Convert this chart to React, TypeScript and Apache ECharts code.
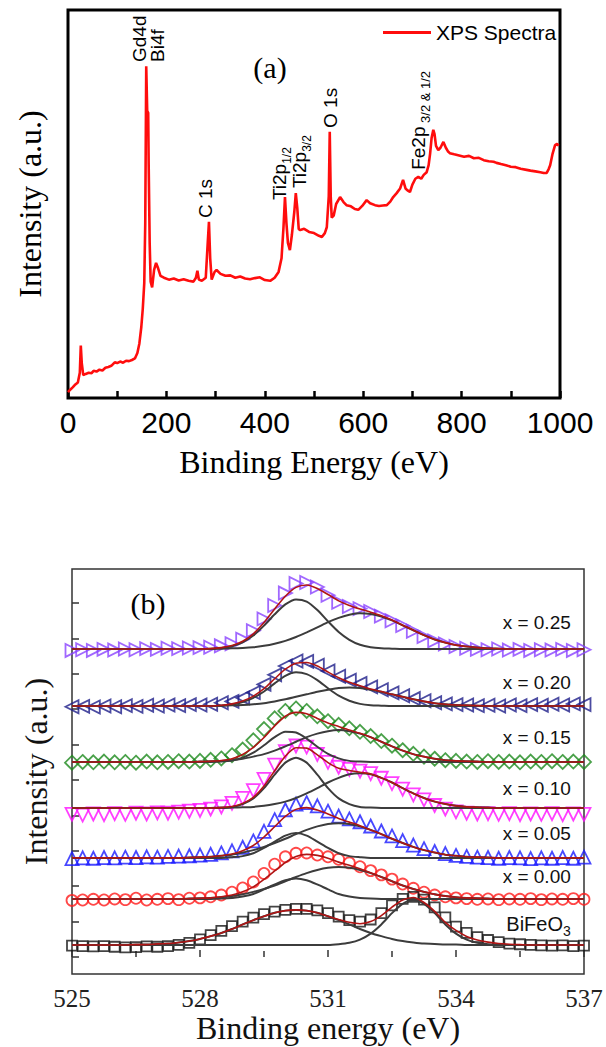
import React, { useEffect, useRef } from 'react';
import * as echarts from 'echarts';

const serif = 'Liberation Serif';
const sans = 'Liberation Sans';

// ---------- (a) XPS survey spectrum: [binding energy (eV), intensity (a.u.)]
const surveySpectrum: number[][] = [
  [0, 1.5], [5, 2.2], [10, 2.8], [15, 3.5], [20, 4.0], [24, 6.5], [26, 13.5], [28, 9], [31, 5.9], [36, 6.2],
  [42, 6.5], [48, 6.4], [52, 7.0], [58, 6.8], [64, 7.3], [70, 7.1], [76, 7.8], [82, 8.0], [88, 8.3], [95, 9.2],
  [100, 9.0], [106, 9.4], [112, 9.1], [118, 9.6], [124, 9.5], [130, 9.8], [136, 10.2], [141, 11.6], [145, 14],
  [149, 18.3], [152, 23], [155, 29.6], [157, 45], [159, 85.5], [160, 85.5], [161, 74], [163, 73.5], [164, 60],
  [166, 40], [168, 30], [171, 28.5], [175, 33], [179, 34.8], [183, 33.5], [188, 31.5], [195, 31.0], [205, 30.5],
  [215, 30.8], [225, 30.3], [235, 30.6], [245, 30.2], [255, 30.0], [260, 31], [263, 32.8], [266, 30.5],
  [272, 30.2], [280, 31], [284, 40], [286.5, 45.4], [289, 36], [292, 30.5], [298, 32.5], [302, 33], [310, 32],
  [320, 31.5], [330, 31.6], [340, 31.0], [350, 31.3], [360, 30.8], [370, 30.6], [380, 30.9], [390, 31.1],
  [400, 30.4], [411, 30.2], [420, 31.0], [428, 32.5], [434, 36], [438, 44], [441, 51.8], [444, 45], [447, 40],
  [451, 38.1], [455, 42], [460, 48], [463, 52.8], [466, 49], [469, 43.5], [472, 43.3], [480, 43.6], [490, 42.8],
  [500, 42.5], [510, 41.8], [516, 41.5], [522, 42.5], [526, 44], [530, 52], [532, 68.6], [534, 52], [536, 46.5],
  [540, 47], [545, 50], [553, 51.8], [560, 50.5], [566, 49.7], [575, 49.4], [583, 48.7], [590, 48.5],
  [598, 49.5], [607, 51], [614, 50.2], [624, 49.7], [632, 49.5], [640, 49.6], [648, 49.7], [655, 50.6],
  [661, 51.8], [668, 52.8], [675, 54], [681, 56.2], [686, 54], [690, 53.5], [695, 53.1], [700, 55], [706, 56.5],
  [712, 57], [718, 56.5], [723, 57.5], [729, 58.2], [733, 60], [736, 63], [739, 67], [742.5, 69.1], [745, 68],
  [748, 65], [752.6, 63.9], [757, 64.5], [763, 66], [768, 64.5], [772, 63.6], [776, 63.1], [785, 62.8],
  [795, 62.5], [805, 62.2], [815, 62.4], [825, 61.8], [835, 61.9], [845, 61.3], [855, 61.0], [865, 60.9],
  [871, 60.6], [880, 60.3], [890, 60.0], [900, 59.6], [910, 59.5], [920, 59.1], [932, 58.8], [940, 58.6],
  [950, 58.4], [960, 58.2], [967, 58.0], [973, 58.0], [977, 59], [980, 60], [985, 63], [990, 65.2],
  [994, 65.5], [997, 65],
];

// peak annotations (energy, intensity where the rotated text starts)
const surveyPeakLabels = [
  { main: 'Gd4d\nBi4f', sub: '', energy: 128, level: 86.6 },
  { main: 'C 1s', sub: '', energy: 262, level: 46.4 },
  { main: 'Ti2p', sub: '1/2', energy: 410.6, level: 51.0 },
  { main: 'Ti2p', sub: '3/2', energy: 451.2, level: 54.1 },
  { main: 'O 1s', sub: '', energy: 515.2, level: 69.6 },
  { main: 'Fe2p', sub: ' 3/2 & 1/2', energy: 692.1, level: 58.8 },
];

// ---------- (b) O 1s spectra
const bindingGrid = [
  525, 525.25, 525.5, 525.75, 526, 526.25, 526.5, 526.75, 527, 527.25, 527.5, 527.75,
  528, 528.25, 528.5, 528.75, 529, 529.25, 529.5, 529.75, 530, 530.25, 530.5, 530.75,
  531, 531.25, 531.5, 531.75, 532, 532.25, 532.5, 532.75, 533, 533.25, 533.5, 533.75,
  534, 534.25, 534.5, 534.75, 535, 535.25, 535.5, 535.75, 536, 536.25, 536.5, 536.75, 537,
];
const oxygenTicks = [0, 1, 2, 3, 4, 5, 6, 7, 8, 9, 10];

// x = 0.25
const data025 = [
  8.66, 8.68, 8.66, 8.69, 8.67, 8.70, 8.68, 8.71, 8.69, 8.72, 8.71, 8.73,
  8.74, 8.75, 8.79, 8.85, 8.98, 9.22, 9.55, 9.93, 10.28, 10.55, 10.58, 10.45,
  10.22, 10.02, 9.90, 9.84, 9.76, 9.63, 9.50, 9.36, 9.20, 9.05, 8.93, 8.84,
  8.77, 8.72, 8.69, 8.68, 8.70, 8.67, 8.69, 8.66, 8.68, 8.67, 8.69, 8.66, 8.68,
];
const fit025 = [
  8.70, 8.70, 8.70, 8.70, 8.70, 8.70, 8.70, 8.70, 8.70, 8.70, 8.70, 8.70,
  8.70, 8.71, 8.74, 8.80, 8.92, 9.13, 9.45, 9.83, 10.19, 10.44, 10.51, 10.41,
  10.24, 10.06, 9.93, 9.83, 9.74, 9.64, 9.52, 9.37, 9.23, 9.09, 8.97, 8.88,
  8.81, 8.77, 8.74, 8.72, 8.71, 8.70, 8.70, 8.70, 8.70, 8.70, 8.70, 8.70, 8.70,
];
const low025 = [
  8.70, 8.70, 8.70, 8.70, 8.70, 8.70, 8.70, 8.70, 8.70, 8.70, 8.70, 8.70,
  8.70, 8.71, 8.73, 8.78, 8.89, 9.08, 9.36, 9.68, 9.96, 10.10, 10.04, 9.80,
  9.48, 9.18, 8.96, 8.82, 8.75, 8.72, 8.71, 8.70, 8.70, 8.70, 8.70, 8.70,
  8.70, 8.70, 8.70, 8.70, 8.70, 8.70, 8.70, 8.70, 8.70, 8.70, 8.70, 8.70, 8.70,
];
const high025 = [
  8.70, 8.70, 8.70, 8.70, 8.70, 8.70, 8.70, 8.70, 8.70, 8.70, 8.70, 8.70,
  8.70, 8.70, 8.71, 8.72, 8.73, 8.75, 8.79, 8.85, 8.93, 9.04, 9.17, 9.31,
  9.46, 9.58, 9.67, 9.71, 9.69, 9.62, 9.51, 9.37, 9.23, 9.09, 8.97, 8.88,
  8.81, 8.77, 8.74, 8.72, 8.71, 8.70, 8.70, 8.70, 8.70, 8.70, 8.70, 8.70, 8.70,
];

// x = 0.20
const data020 = [
  7.07, 7.08, 7.06, 7.09, 7.07, 7.10, 7.08, 7.11, 7.09, 7.12, 7.10, 7.13,
  7.12, 7.14, 7.18, 7.22, 7.32, 7.47, 7.70, 7.97, 8.22, 8.36, 8.35, 8.24,
  8.08, 7.93, 7.82, 7.73, 7.63, 7.55, 7.46, 7.38, 7.30, 7.24, 7.18, 7.15,
  7.13, 7.12, 7.10, 7.11, 7.09, 7.12, 7.10, 7.13, 7.11, 7.14, 7.12, 7.15, 7.13,
];
const fit020 = [
  7.09, 7.09, 7.09, 7.09, 7.09, 7.09, 7.09, 7.09, 7.09, 7.09, 7.09, 7.09,
  7.09, 7.09, 7.11, 7.15, 7.23, 7.37, 7.58, 7.86, 8.13, 8.30, 8.32, 8.22,
  8.05, 7.89, 7.76, 7.66, 7.57, 7.50, 7.42, 7.35, 7.28, 7.22, 7.17, 7.14,
  7.12, 7.11, 7.10, 7.09, 7.09, 7.09, 7.09, 7.09, 7.09, 7.09, 7.09, 7.09, 7.09,
];
const low020 = [
  7.09, 7.09, 7.09, 7.09, 7.09, 7.09, 7.09, 7.09, 7.09, 7.09, 7.09, 7.09,
  7.09, 7.09, 7.10, 7.13, 7.20, 7.32, 7.50, 7.73, 7.94, 8.04, 7.99, 7.82,
  7.59, 7.38, 7.24, 7.15, 7.11, 7.10, 7.09, 7.09, 7.09, 7.09, 7.09, 7.09,
  7.09, 7.09, 7.09, 7.09, 7.09, 7.09, 7.09, 7.09, 7.09, 7.09, 7.09, 7.09, 7.09,
];
const high020 = [
  7.09, 7.09, 7.09, 7.09, 7.09, 7.09, 7.09, 7.09, 7.09, 7.09, 7.09, 7.09,
  7.09, 7.09, 7.10, 7.11, 7.12, 7.14, 7.17, 7.22, 7.28, 7.35, 7.42, 7.49,
  7.55, 7.60, 7.61, 7.60, 7.55, 7.49, 7.42, 7.35, 7.28, 7.22, 7.17, 7.14,
  7.12, 7.11, 7.10, 7.09, 7.09, 7.09, 7.09, 7.09, 7.09, 7.09, 7.09, 7.09, 7.09,
];

// x = 0.15
const data015 = [
  5.49, 5.51, 5.50, 5.52, 5.50, 5.51, 5.49, 5.52, 5.50, 5.51, 5.53, 5.52,
  5.54, 5.57, 5.61, 5.70, 5.86, 6.12, 6.44, 6.74, 6.95, 7.02, 6.95, 6.80,
  6.66, 6.56, 6.46, 6.36, 6.24, 6.10, 5.97, 5.84, 5.74, 5.66, 5.60, 5.56,
  5.54, 5.52, 5.51, 5.53, 5.51, 5.52, 5.50, 5.52, 5.51, 5.53, 5.51, 5.52, 5.51,
];
const fit015 = [
  5.51, 5.51, 5.51, 5.51, 5.51, 5.51, 5.51, 5.51, 5.51, 5.51, 5.51, 5.51,
  5.52, 5.53, 5.55, 5.60, 5.72, 5.92, 6.20, 6.53, 6.80, 6.91, 6.87, 6.74,
  6.61, 6.51, 6.41, 6.32, 6.21, 6.08, 5.95, 5.83, 5.73, 5.66, 5.60, 5.56,
  5.54, 5.53, 5.52, 5.51, 5.51, 5.51, 5.51, 5.51, 5.51, 5.51, 5.51, 5.51, 5.51,
];
const low015 = [
  5.51, 5.51, 5.51, 5.51, 5.51, 5.51, 5.51, 5.51, 5.51, 5.51, 5.51, 5.51,
  5.51, 5.51, 5.52, 5.55, 5.63, 5.77, 5.98, 6.21, 6.36, 6.34, 6.17, 5.94,
  5.74, 5.61, 5.54, 5.52, 5.51, 5.51, 5.51, 5.51, 5.51, 5.51, 5.51, 5.51,
  5.51, 5.51, 5.51, 5.51, 5.51, 5.51, 5.51, 5.51, 5.51, 5.51, 5.51, 5.51, 5.51,
];
const high015 = [
  5.51, 5.51, 5.51, 5.51, 5.51, 5.51, 5.51, 5.51, 5.51, 5.51, 5.51, 5.51,
  5.52, 5.53, 5.54, 5.56, 5.60, 5.66, 5.73, 5.83, 5.95, 6.08, 6.21, 6.31,
  6.38, 6.41, 6.38, 6.31, 6.21, 6.08, 5.95, 5.83, 5.73, 5.66, 5.60, 5.56,
  5.54, 5.53, 5.52, 5.51, 5.51, 5.51, 5.51, 5.51, 5.51, 5.51, 5.51, 5.51, 5.51,
];

// x = 0.10
const data010 = [
  4.03, 4.01, 4.04, 4.02, 4.05, 4.03, 4.06, 4.04, 4.07, 4.06, 4.09, 4.12,
  4.14, 4.18, 4.24, 4.34, 4.48, 4.70, 5.02, 5.42, 5.80, 5.96, 5.93, 5.72,
  5.50, 5.36, 5.30, 5.25, 5.18, 5.05, 4.90, 4.74, 4.58, 4.44, 4.28, 4.18,
  4.10, 4.06, 4.04, 4.05, 4.03, 4.05, 4.02, 4.04, 4.03, 4.05, 4.02, 4.04, 4.03,
];
const fit010 = [
  4.21, 4.21, 4.21, 4.21, 4.21, 4.21, 4.21, 4.21, 4.21, 4.21, 4.21, 4.21,
  4.21, 4.21, 4.22, 4.25, 4.34, 4.51, 4.83, 5.26, 5.67, 5.91, 5.90, 5.71,
  5.49, 5.33, 5.27, 5.22, 5.17, 5.06, 4.93, 4.77, 4.62, 4.49, 4.39, 4.32,
  4.27, 4.24, 4.23, 4.22, 4.21, 4.21, 4.21, 4.21, 4.21, 4.21, 4.21, 4.21, 4.21,
];
const low010 = [
  4.21, 4.21, 4.21, 4.21, 4.21, 4.21, 4.21, 4.21, 4.21, 4.21, 4.21, 4.21,
  4.21, 4.21, 4.22, 4.24, 4.32, 4.48, 4.77, 5.15, 5.49, 5.63, 5.49, 5.15,
  4.77, 4.48, 4.32, 4.24, 4.22, 4.21, 4.21, 4.21, 4.21, 4.21, 4.21, 4.21,
  4.21, 4.21, 4.21, 4.21, 4.21, 4.21, 4.21, 4.21, 4.21, 4.21, 4.21, 4.21, 4.21,
];
const high010 = [
  4.21, 4.21, 4.21, 4.21, 4.21, 4.21, 4.21, 4.21, 4.21, 4.21, 4.21, 4.21,
  4.21, 4.21, 4.21, 4.22, 4.23, 4.24, 4.27, 4.32, 4.39, 4.49, 4.62, 4.77,
  4.93, 5.06, 5.16, 5.19, 5.16, 5.06, 4.93, 4.77, 4.62, 4.49, 4.39, 4.32,
  4.27, 4.24, 4.23, 4.22, 4.21, 4.21, 4.21, 4.21, 4.21, 4.21, 4.21, 4.21, 4.21,
];

// x = 0.05
const data005 = [
  2.78, 2.80, 2.79, 2.81, 2.80, 2.82, 2.81, 2.83, 2.82, 2.84, 2.85, 2.86,
  2.88, 2.90, 2.94, 3.00, 3.10, 3.28, 3.55, 3.88, 4.16, 4.32, 4.36, 4.27,
  4.12, 3.98, 3.90, 3.82, 3.70, 3.56, 3.42, 3.29, 3.16, 3.06, 2.98, 2.92,
  2.87, 2.84, 2.82, 2.81, 2.79, 2.81, 2.80, 2.78, 2.80, 2.79, 2.81, 2.79, 2.82,
];
const fit005 = [
  2.80, 2.80, 2.80, 2.80, 2.80, 2.80, 2.80, 2.80, 2.80, 2.80, 2.80, 2.81,
  2.82, 2.83, 2.86, 2.91, 3.00, 3.15, 3.39, 3.68, 3.97, 4.17, 4.22, 4.15,
  4.04, 3.91, 3.81, 3.71, 3.59, 3.47, 3.34, 3.22, 3.11, 3.02, 2.95, 2.89,
  2.86, 2.83, 2.82, 2.81, 2.80, 2.80, 2.80, 2.80, 2.80, 2.80, 2.80, 2.80, 2.80,
];
const low005 = [
  2.80, 2.80, 2.80, 2.80, 2.80, 2.80, 2.80, 2.80, 2.80, 2.80, 2.80, 2.80,
  2.80, 2.80, 2.80, 2.82, 2.85, 2.93, 3.08, 3.26, 3.43, 3.50, 3.43, 3.26,
  3.08, 2.93, 2.85, 2.82, 2.80, 2.80, 2.80, 2.80, 2.80, 2.80, 2.80, 2.80,
  2.80, 2.80, 2.80, 2.80, 2.80, 2.80, 2.80, 2.80, 2.80, 2.80, 2.80, 2.80, 2.80,
];
const high005 = [
  2.80, 2.80, 2.80, 2.80, 2.80, 2.80, 2.80, 2.80, 2.80, 2.80, 2.80, 2.81,
  2.82, 2.83, 2.86, 2.89, 2.95, 3.02, 3.11, 3.22, 3.34, 3.47, 3.59, 3.69,
  3.76, 3.78, 3.76, 3.69, 3.59, 3.47, 3.34, 3.22, 3.11, 3.02, 2.95, 2.89,
  2.86, 2.83, 2.82, 2.81, 2.80, 2.80, 2.80, 2.80, 2.80, 2.80, 2.80, 2.80, 2.80,
];

// x = 0.00
const data000 = [
  1.60, 1.61, 1.63, 1.61, 1.64, 1.62, 1.66, 1.61, 1.63, 1.65, 1.62, 1.66,
  1.67, 1.70, 1.75, 1.83, 1.95, 2.12, 2.36, 2.62, 2.83, 2.93, 2.94, 2.88,
  2.83, 2.76, 2.66, 2.55, 2.44, 2.32, 2.20, 2.06, 1.94, 1.83, 1.75, 1.70,
  1.67, 1.65, 1.63, 1.64, 1.62, 1.64, 1.63, 1.65, 1.62, 1.64, 1.63, 1.65, 1.63,
];
const fit000 = [
  1.64, 1.64, 1.64, 1.64, 1.64, 1.64, 1.64, 1.64, 1.64, 1.64, 1.64, 1.65,
  1.66, 1.67, 1.70, 1.75, 1.84, 1.98, 2.19, 2.43, 2.67, 2.84, 2.90, 2.87,
  2.79, 2.68, 2.59, 2.49, 2.38, 2.26, 2.14, 2.02, 1.92, 1.84, 1.77, 1.72,
  1.69, 1.67, 1.66, 1.65, 1.64, 1.64, 1.64, 1.64, 1.64, 1.64, 1.64, 1.64, 1.64,
];
const low000 = [
  1.64, 1.64, 1.64, 1.64, 1.64, 1.64, 1.64, 1.64, 1.64, 1.64, 1.64, 1.64,
  1.64, 1.64, 1.65, 1.67, 1.71, 1.78, 1.91, 2.05, 2.17, 2.22, 2.17, 2.05,
  1.91, 1.78, 1.71, 1.67, 1.65, 1.64, 1.64, 1.64, 1.64, 1.64, 1.64, 1.64,
  1.64, 1.64, 1.64, 1.64, 1.64, 1.64, 1.64, 1.64, 1.64, 1.64, 1.64, 1.64, 1.64,
];
const high000 = [
  1.64, 1.64, 1.64, 1.64, 1.64, 1.64, 1.64, 1.64, 1.64, 1.64, 1.64, 1.65,
  1.66, 1.67, 1.69, 1.72, 1.77, 1.84, 1.92, 2.02, 2.14, 2.26, 2.37, 2.46,
  2.52, 2.54, 2.52, 2.46, 2.37, 2.26, 2.14, 2.02, 1.92, 1.84, 1.77, 1.72,
  1.69, 1.67, 1.66, 1.65, 1.64, 1.64, 1.64, 1.64, 1.64, 1.64, 1.64, 1.64, 1.64,
];

// BiFeO3
const dataBFO = [
  0.32, 0.31, 0.30, 0.31, 0.29, 0.27, 0.28, 0.30, 0.29, 0.31, 0.34, 0.40,
  0.50, 0.62, 0.74, 0.87, 1.00, 1.11, 1.21, 1.28, 1.33, 1.36, 1.36, 1.32,
  1.24, 1.14, 1.04, 1.00, 1.06, 1.24, 1.46, 1.64, 1.70, 1.62, 1.40, 1.12,
  0.86, 0.68, 0.56, 0.48, 0.42, 0.38, 0.36, 0.34, 0.33, 0.32, 0.33, 0.31, 0.32,
];
const fitBFO = [
  0.34, 0.34, 0.34, 0.34, 0.34, 0.34, 0.35, 0.35, 0.37, 0.38, 0.41, 0.45,
  0.51, 0.59, 0.68, 0.79, 0.92, 1.04, 1.15, 1.25, 1.31, 1.33, 1.31, 1.25,
  1.15, 1.06, 0.98, 0.94, 1.00, 1.17, 1.41, 1.61, 1.68, 1.54, 1.29, 0.98,
  0.75, 0.58, 0.48, 0.42, 0.38, 0.36, 0.35, 0.34, 0.34, 0.34, 0.34, 0.34, 0.34,
];
const lowBFO = [
  0.34, 0.34, 0.34, 0.34, 0.34, 0.34, 0.35, 0.35, 0.37, 0.38, 0.41, 0.45,
  0.51, 0.59, 0.68, 0.79, 0.92, 1.04, 1.15, 1.25, 1.31, 1.33, 1.31, 1.25,
  1.15, 1.04, 0.92, 0.79, 0.68, 0.59, 0.51, 0.45, 0.41, 0.38, 0.37, 0.35,
  0.35, 0.34, 0.34, 0.34, 0.34, 0.34, 0.34, 0.34, 0.34, 0.34, 0.34, 0.34, 0.34,
];
const highBFO = [
  0.34, 0.34, 0.34, 0.34, 0.34, 0.34, 0.34, 0.34, 0.34, 0.34, 0.34, 0.34,
  0.34, 0.34, 0.34, 0.34, 0.34, 0.34, 0.34, 0.34, 0.34, 0.34, 0.34, 0.34,
  0.34, 0.36, 0.40, 0.49, 0.66, 0.92, 1.24, 1.50, 1.61, 1.50, 1.24, 0.92,
  0.66, 0.49, 0.40, 0.36, 0.34, 0.34, 0.34, 0.34, 0.34, 0.34, 0.34, 0.34, 0.34,
];

const sampleNames = ['x = 0.25', 'x = 0.20', 'x = 0.15', 'x = 0.10', 'x = 0.05', 'x = 0.00', 'BiFeO3'];
const sampleLabelLevels = [9.44, 7.74, 6.21, 4.77, 3.5, 2.26, 0.74];

const samples = [
  { name: sampleNames[0], color: '#8a42ff', symbol: 'triangle', rotate: -90, size: 13, markers: data025, fit: fit025, low: low025, high: high025 },
  { name: sampleNames[1], color: '#1e1e8a', symbol: 'triangle', rotate: 90, size: 13, markers: data020, fit: fit020, low: low020, high: high020 },
  { name: sampleNames[2], color: '#1d8a1d', symbol: 'diamond', rotate: 0, size: 14, markers: data015, fit: fit015, low: low015, high: high015 },
  { name: sampleNames[3], color: '#ff10ff', symbol: 'triangle', rotate: 180, size: 13, markers: data010, fit: fit010, low: low010, high: high010 },
  { name: sampleNames[4], color: '#1a1aff', symbol: 'triangle', rotate: 0, size: 13, markers: data005, fit: fit005, low: low005, high: high005 },
  { name: sampleNames[5], color: '#ff1a1a', symbol: 'circle', rotate: 0, size: 11, markers: data000, fit: fit000, low: low000, high: high000 },
  { name: sampleNames[6], color: '#151515', symbol: 'rect', rotate: 0, size: 10, markers: dataBFO, fit: fitBFO, low: lowBFO, high: highBFO },
];

const zip = (xs: number[], ys: number[]) => xs.map((x, i) => [x, ys[i]]);

function buildOption() {
  const series: any[] = [
    {
      type: 'line',
      name: 'XPS Spectra',
      xAxisIndex: 0,
      yAxisIndex: 0,
      data: surveySpectrum,
      showSymbol: false,
      lineStyle: { color: '#ff0d0d', width: 2.6 },
      itemStyle: { color: '#ff0d0d' },
      z: 3,
    },
  ];
  samples.forEach((s) => {
    series.push({
      type: 'scatter',
      name: s.name,
      xAxisIndex: 1,
      yAxisIndex: 1,
      data: zip(bindingGrid, s.markers),
      symbol: s.symbol,
      symbolRotate: s.rotate,
      symbolSize: s.size,
      itemStyle: { color: 'rgba(0,0,0,0)', borderColor: s.color, borderWidth: 1.8 },
      z: 2,
      silent: true,
    });
    [s.low, s.high].forEach((c, k) => {
      series.push({
        type: 'line',
        name: s.name + ' component ' + (k + 1),
        xAxisIndex: 1,
        yAxisIndex: 1,
        data: zip(bindingGrid, c),
        smooth: 0.25,
        showSymbol: false,
        lineStyle: { color: '#3c3c3c', width: 2 },
        z: 3,
        silent: true,
      });
    });
    series.push({
      type: 'line',
      name: s.name + ' fit',
      xAxisIndex: 1,
      yAxisIndex: 1,
      data: zip(bindingGrid, s.fit),
      smooth: 0.25,
      showSymbol: false,
      lineStyle: { color: '#b01414', width: 1.6 },
      z: 4,
      silent: true,
    });
  });

  return {
    animation: false,
    backgroundColor: '#ffffff',
    textStyle: { fontFamily: sans },
    legend: {
      data: ['XPS Spectra'],
      left: 378,
      top: 17,
      icon: 'rect',
      itemWidth: 48,
      itemHeight: 3,
      selectedMode: false,
      textStyle: { fontSize: 21, color: '#000', fontFamily: sans },
    },
    grid: [
      { left: 68, top: 10, width: 492, height: 388, show: true, borderColor: '#000', borderWidth: 3, containLabel: false },
      { left: 72, top: 569, width: 512, height: 405, show: true, borderColor: '#333', borderWidth: 1.5, containLabel: false },
    ],
    xAxis: [
      {
        gridIndex: 0,
        type: 'value',
        min: 0,
        max: 1000,
        interval: 200,
        axisLine: { show: false },
        axisTick: { show: true, inside: true, length: 7, lineStyle: { color: '#000', width: 2.5 } },
        minorTick: { show: true, splitNumber: 2, length: 7, lineStyle: { color: '#000', width: 2.5 } },
        splitLine: { show: false },
        minorSplitLine: { show: false },
        axisLabel: { fontSize: 30, color: '#000', margin: 9, fontFamily: sans, formatter: (v: number) => String(v) },
        name: 'Binding Energy (eV)',
        nameLocation: 'middle',
        nameGap: 48,
        nameTextStyle: { fontSize: 32, color: '#000', fontFamily: serif },
      },
      {
        gridIndex: 1,
        type: 'value',
        min: 525,
        max: 537,
        interval: 3,
        axisLine: { show: false },
        axisTick: { show: true, inside: true, length: 7, lineStyle: { color: '#333', width: 1.5 } },
        minorTick: { show: true, splitNumber: 2, length: 6, lineStyle: { color: '#333', width: 1.5 } },
        splitLine: { show: false },
        minorSplitLine: { show: false },
        axisLabel: { fontSize: 25, color: '#222', margin: 12, fontFamily: serif, formatter: (v: number) => String(v) },
        name: 'Binding energy (eV)',
        nameLocation: 'middle',
        nameGap: 38,
        nameTextStyle: { fontSize: 32, color: '#111', fontFamily: serif },
      },
    ],
    yAxis: [
      {
        gridIndex: 0,
        type: 'value',
        min: 0,
        max: 100,
        axisLine: { show: false },
        axisTick: { show: false },
        axisLabel: { show: false },
        splitLine: { show: false },
        name: 'Intensity (a.u.)',
        nameLocation: 'middle',
        nameRotate: 90,
        nameGap: 22,
        nameTextStyle: { fontSize: 32, color: '#000', fontFamily: serif },
      },
      {
        gridIndex: 1,
        type: 'value',
        min: -0.48,
        max: 10.96,
        axisLine: { show: false },
        axisTick: { show: true, inside: true, length: 7, customValues: oxygenTicks, lineStyle: { color: '#333', width: 1.5 } },
        axisLabel: { show: false, customValues: oxygenTicks },
        splitLine: { show: false },
        name: 'Intensity (a.u.)',
        nameLocation: 'middle',
        nameRotate: 90,
        nameGap: 20,
        nameTextStyle: { fontSize: 32, color: '#111', fontFamily: serif },
      },
    ],
    series,
  };
}

export default function App() {
  const ref = useRef<HTMLDivElement>(null);
  useEffect(() => {
    if (!ref.current) return;
    const chart = echarts.init(ref.current, null, { renderer: 'svg' });
    chart.setOption(buildOption());

    const graphics: any[] = [
      {
        type: 'text', x: 270, y: 67,
        style: { text: '(a)', fontSize: 30, fontFamily: serif, fill: '#000', align: 'center', verticalAlign: 'middle' },
      },
      {
        type: 'text', x: 148, y: 603,
        style: { text: '(b)', fontSize: 30, fontFamily: serif, fill: '#000', align: 'center', verticalAlign: 'middle' },
      },
    ];

    surveyPeakLabels.forEach((l) => {
      const p = chart.convertToPixel({ gridIndex: 0 } as any, [l.energy, l.level]) as number[];
      const text = l.sub ? `{m|${l.main}}{s|${l.sub}}` : l.main;
      graphics.push({
        type: 'text',
        x: p[0],
        y: p[1],
        rotation: Math.PI / 2,
        style: {
          text,
          fontSize: 19,
          fontFamily: sans,
          lineHeight: 18,
          fill: '#000',
          align: 'left',
          verticalAlign: 'top',
          rich: {
            m: { fontSize: 19, fontFamily: sans, lineHeight: 20, verticalAlign: 'top', fill: '#000' },
            s: { fontSize: l.sub.length > 4 ? 13 : 12, fontFamily: sans, lineHeight: 34, verticalAlign: 'middle', fill: '#000' },
          },
        },
      });
    });

    sampleNames.forEach((n, i) => {
      const p = chart.convertToPixel({ gridIndex: 1 } as any, [536.69, sampleLabelLevels[i]]) as number[];
      const isBFO = n === 'BiFeO3';
      graphics.push({
        type: 'text',
        x: p[0],
        y: p[1],
        style: {
          text: isBFO ? '{t|BiFeO}{u|3}' : n,
          fontSize: 19,
          fontFamily: sans,
          fill: '#111',
          align: 'right',
          verticalAlign: 'middle',
          rich: {
            t: { fontSize: 20, fontFamily: sans, lineHeight: 20, verticalAlign: 'top', fill: '#111' },
            u: { fontSize: 14, fontFamily: sans, lineHeight: 34, verticalAlign: 'middle', fill: '#111' },
          },
        },
      });
    });

    chart.setOption({ graphic: graphics });
    return () => chart.dispose();
  }, []);
  return (
    <div
      ref={ref}
      style={{ position: 'fixed', left: 0, top: 0, width: 606, height: 1047, background: '#fff' }}
    />
  );
}
